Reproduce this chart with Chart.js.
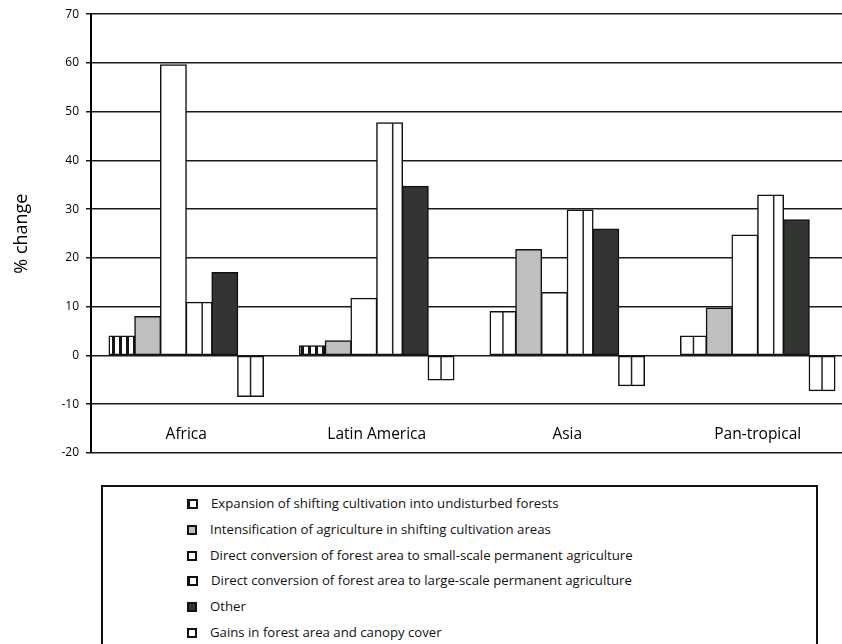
<!DOCTYPE html>
<html>
<head>
<meta charset="utf-8">
<script src="https://cdn.jsdelivr.net/npm/chart.js@4"></script>
<style>
  html, body { margin: 0; padding: 0; background: #fff; }
  body { width: 842px; height: 644px; overflow: hidden; position: relative; font-family: "Open Sans", sans-serif; }
  #wrap { position: absolute; left: 0; top: 0; width: 853px; height: 470px; }
  #legend { position: absolute; left: 101px; top: 485px; width: 717px; height: 200px; border: 2px solid #111; box-sizing: border-box; }
  .row { position: absolute; left: 84px; height: 20px; line-height: 20px; font-size: 13.2px; color: #111; white-space: nowrap; }
  .mk { display: inline-block; width: 6px; height: 6px; border: 2px solid #111; margin-right: 13px; vertical-align: -1px; }
</style>
</head>
<body>
<div id="wrap"><canvas id="chart" width="853" height="470"></canvas></div>
<div id="legend"></div>
<script>
  const categories = ['Africa', 'Latin America', 'Asia', 'Pan-tropical'];
  const seriesLabels = [
    'Expansion of shifting cultivation into undisturbed forests',
    'Intensification of agriculture in shifting cultivation areas',
    'Direct conversion of forest area to small-scale permanent agriculture',
    'Direct conversion of forest area to large-scale permanent agriculture',
    'Other',
    'Gains in forest area and canopy cover'
  ];
  const expansion = [4, 2, 9, 4];
  const intensification = [8, 3, 21.7, 9.7];
  const smallScale = [59.6, 11.7, 12.9, 24.7];
  const largeScale = [10.9, 47.7, 29.8, 32.9];
  const other = [17, 34.7, 25.9, 27.8];
  const gains = [-8.4, -5, -6.2, -7.2];
  const yTicks = [-20, -10, 0, 10, 20, 30, 40, 50, 60, 70];

  // vertical stripe fill for the first series
  function stripes() {
    const c = document.createElement('canvas');
    c.width = 7; c.height = 7;
    const g = c.getContext('2d');
    g.fillStyle = '#fff'; g.fillRect(0, 0, 7, 7);
    g.fillStyle = '#151515'; g.fillRect(0, 0, 3, 7);
    return document.getElementById('chart').getContext('2d').createPattern(c, 'repeat');
  }
  const stripe = stripes();

  const base = { borderColor: '#111', borderWidth: 1.5, borderSkipped: false, inflateAmount: 0.6, categoryPercentage: 0.81, barPercentage: 1 };
  const datasets = [
    Object.assign({ label: seriesLabels[0], data: expansion, backgroundColor: [stripe, stripe, '#fff', '#fff'], lineAt: [null, null, 0.5, 0.5], legendFill: '#fff', legendLeft: 3 }, base),
    Object.assign({ label: seriesLabels[1], data: intensification, backgroundColor: '#bfbfbf', legendFill: '#bfbfbf' }, base),
    Object.assign({ label: seriesLabels[2], data: smallScale, backgroundColor: '#fff', legendFill: '#fff' }, base),
    Object.assign({ label: seriesLabels[3], data: largeScale, backgroundColor: '#fff', lineAt: 0.62, legendFill: '#fff', legendLeft: 3 }, base),
    Object.assign({ label: seriesLabels[4], data: other, backgroundColor: '#333533', legendFill: '#333533' }, base),
    Object.assign({ label: seriesLabels[5], data: gains, backgroundColor: '#fff', lineAt: 0.5, legendFill: '#fff' }, base)
  ];

  const innerLines = {
    id: 'innerLines',
    afterDatasetsDraw(chart) {
      const ctx = chart.ctx;
      chart.data.datasets.forEach((ds, di) => {
        if (ds.lineAt == null) return;
        chart.getDatasetMeta(di).data.forEach((el, i) => {
          const f = Array.isArray(ds.lineAt) ? ds.lineAt[i] : ds.lineAt;
          if (f == null) return;
          const x = el.x - el.width / 2 + f * el.width;
          ctx.save();
          ctx.strokeStyle = '#222';
          ctx.lineWidth = 1.5;
          ctx.beginPath();
          ctx.moveTo(x, el.y);
          ctx.lineTo(x, el.base);
          ctx.stroke();
          ctx.restore();
        });
      });
    }
  };

  const categoryText = {
    id: 'categoryText',
    afterDraw(chart) {
      const ctx = chart.ctx;
      const xs = chart.scales.x, ys = chart.scales.y;
      ctx.save();
      ctx.font = '15.5px "Open Sans"';
      ctx.fillStyle = '#000';
      ctx.textAlign = 'center';
      ctx.textBaseline = 'middle';
      categories.forEach((c, i) => ctx.fillText(c, xs.getPixelForValue(i), ys.getPixelForValue(-16.2)));
      ctx.restore();
    }
  };

  new Chart(document.getElementById('chart'), {
    type: 'bar',
    data: { labels: categories, datasets },
    options: {
      responsive: false,
      devicePixelRatio: 1,
      animation: false,
      layout: { padding: { top: 14, right: 0, bottom: 17, left: 0 } },
      plugins: { legend: { display: false }, tooltip: { enabled: false } },
      scales: {
        x: { display: false },
        y: {
          min: -20, max: 70,
          afterFit(s) { s.width = 91; },
          afterBuildTicks(s) { s.ticks = yTicks.map(v => ({ value: v })); },
          grid: { color: '#1a1a1a', lineWidth: 1.5, tickLength: 5 },
          border: { color: '#000', width: 2 },
          ticks: { color: '#000', padding: 7, font: { family: 'Open Sans', size: 12 } },
          title: { display: true, text: '% change', color: '#000', padding: { top: 11 }, font: { family: 'Open Sans', size: 18 } }
        }
      }
    },
    plugins: [innerLines, categoryText]
  });

  const legend = document.getElementById('legend');
  datasets.forEach((ds, i) => {
    const row = document.createElement('div');
    row.className = 'row';
    row.style.top = (6 + i * 25.8) + 'px';
    const mk = document.createElement('span');
    mk.className = 'mk';
    mk.style.background = ds.legendFill;
    if (ds.legendLeft) mk.style.borderLeftWidth = ds.legendLeft + 'px';
    row.appendChild(mk);
    row.appendChild(document.createTextNode(ds.label));
    legend.appendChild(row);
  });
</script>
</body>
</html>
